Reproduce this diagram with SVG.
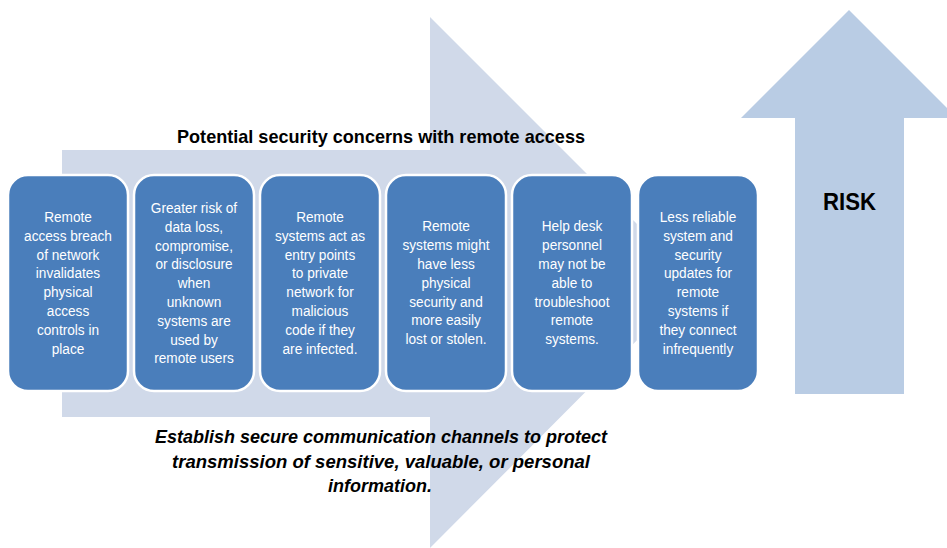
<svg xmlns="http://www.w3.org/2000/svg" width="947" height="548" viewBox="0 0 947 548">
<style>
.box{fill:#4a7ebb;stroke:#ffffff;stroke-width:2.5}
.bt{font-family:"Liberation Sans",Arial,sans-serif;font-size:15.5px;fill:#ffffff;text-anchor:middle}
.title{font-family:"Liberation Sans",Arial,sans-serif;font-size:19px;font-weight:bold;fill:#000000;text-anchor:middle}
.foot{font-family:"Liberation Sans",Arial,sans-serif;font-size:19px;font-weight:bold;font-style:italic;fill:#000000;text-anchor:middle}
</style>
<rect width="947" height="548" fill="#ffffff"/>
<g id="process-arrow">
<polygon points="62,150 430,150 430,17 695,282 430,548 430,417 62,417" fill="#d0d9e9"/>
</g>
<g id="risk-arrow">
<polygon points="849,10 957,118 904,118 904,394 795,394 795,118 741,118" fill="#b9cce4"/>
<text x="849.5" y="210" font-family="'Liberation Sans',Arial,sans-serif" font-size="24" font-weight="bold" text-anchor="middle" textLength="53" lengthAdjust="spacingAndGlyphs">RISK</text>
</g>
<g id="title">
<text class="title" x="381" y="143" textLength="408" lengthAdjust="spacingAndGlyphs">Potential security concerns with remote access</text>
</g>
<g id="node1">
<rect class="box" x="8" y="175" width="120" height="216" rx="20"/>
<text class="bt" transform="translate(68,0) scale(0.88,1)" y="222"><tspan x="0">Remote</tspan><tspan x="0" dy="18.8">access breach</tspan><tspan x="0" dy="18.8">of network</tspan><tspan x="0" dy="18.8">invalidates</tspan><tspan x="0" dy="18.8">physical</tspan><tspan x="0" dy="18.8">access</tspan><tspan x="0" dy="18.8">controls in</tspan><tspan x="0" dy="18.8">place</tspan></text>
</g>
<g id="node2">
<rect class="box" x="134" y="175" width="120" height="216" rx="20"/>
<text class="bt" transform="translate(194,0) scale(0.88,1)" y="213"><tspan x="0">Greater risk of</tspan><tspan x="0" dy="18.8">data loss,</tspan><tspan x="0" dy="18.8">compromise,</tspan><tspan x="0" dy="18.8">or disclosure</tspan><tspan x="0" dy="18.8">when</tspan><tspan x="0" dy="18.8">unknown</tspan><tspan x="0" dy="18.8">systems are</tspan><tspan x="0" dy="18.8">used by</tspan><tspan x="0" dy="18.8">remote users</tspan></text>
</g>
<g id="node3">
<rect class="box" x="260" y="175" width="120" height="216" rx="20"/>
<text class="bt" transform="translate(320,0) scale(0.88,1)" y="222"><tspan x="0">Remote</tspan><tspan x="0" dy="18.8">systems act as</tspan><tspan x="0" dy="18.8">entry points</tspan><tspan x="0" dy="18.8">to private</tspan><tspan x="0" dy="18.8">network for</tspan><tspan x="0" dy="18.8">malicious</tspan><tspan x="0" dy="18.8">code if they</tspan><tspan x="0" dy="18.8">are infected.</tspan></text>
</g>
<g id="node4">
<rect class="box" x="386" y="175" width="120" height="216" rx="20"/>
<text class="bt" transform="translate(446,0) scale(0.88,1)" y="231.5"><tspan x="0">Remote</tspan><tspan x="0" dy="18.8">systems might</tspan><tspan x="0" dy="18.8">have less</tspan><tspan x="0" dy="18.8">physical</tspan><tspan x="0" dy="18.8">security and</tspan><tspan x="0" dy="18.8">more easily</tspan><tspan x="0" dy="18.8">lost or stolen.</tspan></text>
</g>
<g id="node5">
<rect class="box" x="512" y="175" width="120" height="216" rx="20"/>
<text class="bt" transform="translate(572,0) scale(0.88,1)" y="231.5"><tspan x="0">Help desk</tspan><tspan x="0" dy="18.8">personnel</tspan><tspan x="0" dy="18.8">may not be</tspan><tspan x="0" dy="18.8">able to</tspan><tspan x="0" dy="18.8">troubleshoot</tspan><tspan x="0" dy="18.8">remote</tspan><tspan x="0" dy="18.8">systems.</tspan></text>
</g>
<g id="node6">
<rect class="box" x="638" y="175" width="120" height="216" rx="20"/>
<text class="bt" transform="translate(698,0) scale(0.88,1)" y="222"><tspan x="0">Less reliable</tspan><tspan x="0" dy="18.8">system and</tspan><tspan x="0" dy="18.8">security</tspan><tspan x="0" dy="18.8">updates for</tspan><tspan x="0" dy="18.8">remote</tspan><tspan x="0" dy="18.8">systems if</tspan><tspan x="0" dy="18.8">they connect</tspan><tspan x="0" dy="18.8">infrequently</tspan></text>
</g>
<g id="footer">
<text class="foot" x="381" y="443" textLength="452" lengthAdjust="spacingAndGlyphs">Establish secure communication channels to protect</text>
<text class="foot" x="381" y="467.5" textLength="418" lengthAdjust="spacingAndGlyphs">transmission of sensitive, valuable, or personal</text>
<text class="foot" x="380" y="492" textLength="104" lengthAdjust="spacingAndGlyphs">information.</text>
</g>
<g id="connectors"></g>
</svg>
